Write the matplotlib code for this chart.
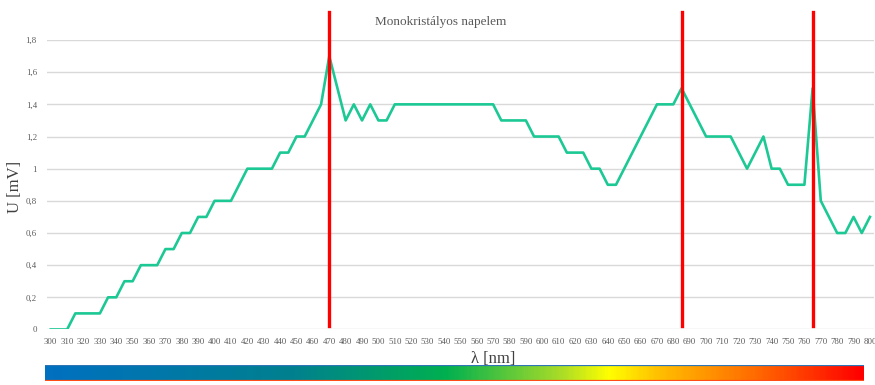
import numpy as np
import matplotlib
matplotlib.use("Agg")
import matplotlib.pyplot as plt
from matplotlib.colors import LinearSegmentedColormap

plt.rcParams['font.family'] = ['Liberation Serif', 'DejaVu Serif']

# hullámhossz [nm] és feszültség [mV]
hullamhossz = list(range(300, 805, 5))
feszultseg = [0, 0, 0, 0.1, 0.1, 0.1, 0.1, 0.2, 0.2, 0.3, 0.3,
              0.4, 0.4, 0.4, 0.5, 0.5, 0.6, 0.6, 0.7, 0.7, 0.8,
              0.8, 0.8, 0.9, 1.0, 1.0, 1.0, 1.0, 1.1, 1.1, 1.2,
              1.2, 1.3, 1.4, 1.7, 1.5, 1.3, 1.4, 1.3, 1.4, 1.3,
              1.3, 1.4, 1.4, 1.4, 1.4, 1.4, 1.4, 1.4, 1.4, 1.4,
              1.4, 1.4, 1.4, 1.4, 1.3, 1.3, 1.3, 1.3, 1.2, 1.2,
              1.2, 1.2, 1.1, 1.1, 1.1, 1.0, 1.0, 0.9, 0.9, 1.0,
              1.1, 1.2, 1.3, 1.4, 1.4, 1.4, 1.5, 1.4, 1.3, 1.2,
              1.2, 1.2, 1.2, 1.1, 1.0, 1.1, 1.2, 1.0, 1.0, 0.9,
              0.9, 0.9, 1.5, 0.8, 0.7, 0.6, 0.6, 0.7, 0.6, 0.7]
piros_vonalak = [470, 685, 765]
x_tickek = list(range(300, 810, 10))
y_tickek = [0, 0.2, 0.4, 0.6, 0.8, 1, 1.2, 1.4, 1.6, 1.8]

fig = plt.figure(figsize=(8.75, 3.85), dpi=100, facecolor="white")
ax = fig.add_axes([0.0533, 0.1442, 0.9456, 0.7518])

for s in ax.spines.values():
    s.set_visible(False)

ax.set_xlim(297.5, 802.5)
ax.set_ylim(0, 1.8)
ax.set_yticks(y_tickek)
ax.set_yticklabels([("%g" % v).replace(".", ",") for v in y_tickek])
ax.set_xticks(x_tickek)
ax.set_xticklabels([str(v) for v in x_tickek])
ax.tick_params(axis='both', length=0, labelsize=6.3, colors="#595959")
ax.tick_params(axis='y', pad=7)
ax.tick_params(axis='x', pad=6)
ax.grid(True, axis='y', color="#d9d9d9", linewidth=1.0)
ax.set_axisbelow(True)

ax.plot(hullamhossz, feszultseg, color="#1cc894", linewidth=1.9, zorder=3)

for xv in piros_vonalak:
    ax.plot([xv, xv], [0.02, 1.975], color="#ff0000", linewidth=2.4,
            clip_on=False, zorder=4)

fig.text(0.5035, 0.943, "Monokristályos napelem", ha="center", va="center",
         fontsize=9.5, color="#595959")
fig.text(0.0175, 0.515, "U [mV]", ha="center", va="center", rotation=90,
         fontsize=12, color="#404040")
fig.text(0.5635, 0.068, "λ [nm]", ha="center", va="center",
         fontsize=12, color="#404040")

# színskála sáv alul
cax = fig.add_axes([45 / 875, 4 / 385, 819 / 875, 16 / 385])
cmap = LinearSegmentedColormap.from_list(
    "spektrum",
    [(0.0, "#0070c0"), (0.3, "#00808f"), (0.49, "#00b050"),
     (0.63, "#a8dc28"), (0.69, "#ffff00"), (0.75, "#ffc000"),
     (0.87, "#ff6a00"), (1.0, "#ff0000")])
cax.imshow(np.linspace(0, 1, 400).reshape(1, -1), aspect="auto", cmap=cmap,
           extent=[0, 1, 0, 1])
cax.set_xlim(0, 1)
cax.set_ylim(0, 1)
cax.axhline(0.97, color="#2e75b6", linewidth=1.6)
cax.axhline(0.03, color="#ff4d1a", linewidth=1.6)
cax.set_xticks([])
cax.set_yticks([])
for s in cax.spines.values():
    s.set_visible(False)

plt.savefig("out.png", dpi=100)
